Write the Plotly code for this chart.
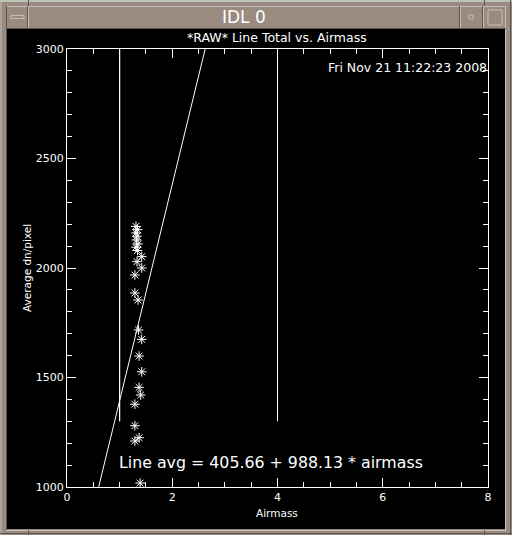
import plotly.graph_objects as go

# ---- data ----
airmass = [1.31, 1.34, 1.31, 1.33, 1.32, 1.35, 1.31, 1.34,
           1.42, 1.33, 1.42, 1.29, 1.29, 1.35, 1.36, 1.42,
           1.37, 1.42, 1.37, 1.40, 1.29, 1.29, 1.37, 1.29, 1.39]
line_avg = [2190, 2175, 2160, 2145, 2128, 2110, 2095, 2080,
            2052, 2029, 2000, 1968, 1886, 1854, 1717, 1674,
            1598, 1526, 1455, 1420, 1378, 1280, 1225, 1210, 1018]
fit_intercept = 405.66
fit_slope = 988.13
fit_x = [0, 8]
vline_x = [1.0, 4.0]
vline_y = [1300, 3000]
x_ticks = [0, 2, 4, 6, 8]
y_ticks = [1000, 1500, 2000, 2500, 3000]

W, H = 512, 535
L, R, T, B = 67, 488, 49, 487

def xp(px):
    return (px - L) / (R - L)

def yp(py):
    return (B - py) / (B - T)

FONT = "DejaVu Sans"
frame = "#9a8b80"
light = "#c9beb5"
dark = "#5e544d"

fig = go.Figure()

# fit line
fig.add_trace(go.Scatter(
    x=fit_x, y=[fit_intercept + fit_slope * v for v in fit_x],
    mode="lines", line=dict(color="white", width=1), hoverinfo="skip"))

# vertical reference lines
for vx in vline_x:
    fig.add_trace(go.Scatter(x=[vx, vx], y=vline_y, mode="lines",
                             line=dict(color="white", width=1), hoverinfo="skip"))
# same line on the mirrored axes (so top/right ticks are drawn)
fig.add_trace(go.Scatter(x=[vline_x[0], vline_x[0]], y=vline_y, mode="lines",
                         xaxis="x2", yaxis="y2",
                         line=dict(color="white", width=1), hoverinfo="skip"))

# data points
fig.add_trace(go.Scatter(
    x=airmass, y=line_avg, mode="markers",
    marker=dict(symbol="asterisk-open", size=8, color="white",
                line=dict(color="white", width=1))))

shapes = []
# black window interior
shapes.append(dict(type="rect", xref="paper", yref="paper", layer="below",
                   x0=xp(7), x1=xp(505), y0=yp(529), y1=yp(29),
                   fillcolor="black", line=dict(width=0)))

def hline(x0, x1, y, color):
    shapes.append(dict(type="line", xref="paper", yref="paper",
                       x0=xp(x0), x1=xp(x1), y0=yp(y), y1=yp(y),
                       line=dict(color=color, width=1)))

def vline(x, y0, y1, color):
    shapes.append(dict(type="line", xref="paper", yref="paper",
                       x0=xp(x), x1=xp(x), y0=yp(y0), y1=yp(y1),
                       line=dict(color=color, width=1)))

hline(0, 512, 0.5, "#b4c6bf")
hline(0, 512, 1.5, light)
vline(1, 0, 535, light)
vline(510.5, 0, 535, dark)
hline(0, 512, 533.5, dark)
hline(6, 506, 6.5, light)
vline(6.5, 6, 530, dark)
vline(505.5, 6, 530, light)
hline(6, 506, 530.5, light)
vline(28.5, 6, 28, light)
vline(27.5, 6, 28, dark)
vline(460.5, 6, 28, light)
vline(459.5, 6, 28, dark)
vline(483.5, 6, 28, light)
vline(482.5, 6, 28, dark)
hline(6, 506, 28.5, dark)
vline(28.5, 0, 6, dark)
vline(484.5, 0, 6, dark)
vline(28.5, 530, 535, dark)
vline(484.5, 530, 535, dark)
# left button bar
shapes.append(dict(type="rect", xref="paper", yref="paper",
                   x0=xp(11), x1=xp(24), y0=yp(18.5), y1=yp(15.5),
                   fillcolor=frame, line=dict(color=light, width=1)))
# small square
shapes.append(dict(type="rect", xref="paper", yref="paper",
                   x0=xp(469), x1=xp(473), y0=yp(19), y1=yp(15),
                   fillcolor=frame, line=dict(color=light, width=1)))
# maximize square
shapes.append(dict(type="rect", xref="paper", yref="paper",
                   x0=xp(488), x1=xp(502), y0=yp(25), y1=yp(10),
                   fillcolor=frame, line=dict(color=light, width=1)))

annotations = [
    dict(text="IDL 0", xref="paper", yref="paper", x=xp(244), y=yp(17),
         showarrow=False, font=dict(family=FONT, size=17, color="white"),
         xanchor="center", yanchor="middle"),
    dict(text="*RAW* Line Total vs. Airmass", xref="paper", yref="paper",
         x=xp(277), y=yp(38), showarrow=False,
         font=dict(family=FONT, size=12.5, color="white"),
         xanchor="center", yanchor="middle"),
    dict(text="Fri Nov 21 11:22:23 2008", xref="paper", yref="paper",
         x=xp(489), y=yp(67), showarrow=False,
         font=dict(family=FONT, size=12.5, color="white"),
         xanchor="right", yanchor="middle"),
    dict(text="Line avg = 405.66 + 988.13 * airmass", xref="paper", yref="paper",
         x=xp(117), y=yp(462), showarrow=False,
         font=dict(family=FONT, size=15.8, color="white"),
         xanchor="left", yanchor="middle"),
    dict(text="Airmass", xref="paper", yref="paper", x=xp(277), y=yp(513),
         showarrow=False, font=dict(family=FONT, size=10.5, color="white"),
         xanchor="center", yanchor="middle"),
    dict(text="Average dn/pixel", xref="paper", yref="paper", x=xp(27), y=yp(268),
         showarrow=False, textangle=-90,
         font=dict(family=FONT, size=10.5, color="white"),
         xanchor="center", yanchor="middle"),
]

axis_common = dict(showgrid=False, zeroline=False, showline=True,
                   linecolor="white", linewidth=1,
                   ticks="inside", ticklen=9, tickcolor="white", tickwidth=1,
                   tickfont=dict(family=FONT, size=11, color="white"))

xminor = dict(ticks="inside", ticklen=5, dtick=0.5, tickcolor="white")
yminor = dict(ticks="inside", ticklen=5, dtick=100, tickcolor="white")

fig.update_layout(
    width=W, height=H,
    margin=dict(l=L, r=W - R, t=T, b=H - B, pad=0),
    paper_bgcolor=frame, plot_bgcolor="black",
    showlegend=False,
    shapes=shapes, annotations=annotations,
    xaxis=dict(range=[0, 8], tickvals=x_ticks, ticktext=[str(v) for v in x_ticks],
               minor=xminor, **axis_common),
    yaxis=dict(range=[1000, 3000], tickvals=y_ticks, ticktext=[str(v) for v in y_ticks],
               minor=yminor, **axis_common),
    xaxis2=dict(range=[0, 8], tickvals=x_ticks, overlaying="x", side="top",
                showticklabels=False, minor=xminor, **axis_common),
    yaxis2=dict(range=[1000, 3000], tickvals=y_ticks, overlaying="y", side="right",
                showticklabels=False, minor=yminor, **axis_common),
)

fig.write_html("out.html",
               config={"displayModeBar": False},
               post_script="document.body.style.margin='0';"
                           "document.body.style.overflow='hidden';")
